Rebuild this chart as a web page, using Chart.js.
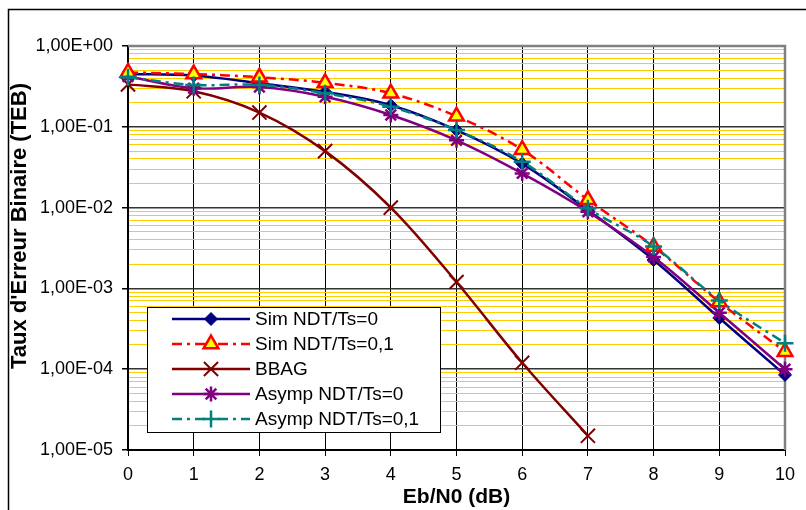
<!DOCTYPE html>
<html>
<head>
<meta charset="utf-8">
<script src="https://cdn.jsdelivr.net/npm/chart.js@4.4.1/dist/chart.umd.min.js"></script>
<style>
  html, body { margin: 0; padding: 0; background: #fff; }
  #wrap { width: 806px; height: 510px; }
</style>
</head>
<body>
<div id="wrap"><canvas id="tebChart"></canvas></div>
<script>
// Eb/N0 (dB)
const snr = [0, 1, 2, 3, 4, 5, 6, 7, 8, 9, 10];
// TEB values
const simNdt0 = [0.45, 0.43, 0.345, 0.27, 0.185, 0.091, 0.035, 0.0093, 0.00225, 0.00043, 0.000085];
const simNdt01 = [0.47, 0.45, 0.41, 0.35, 0.26, 0.135, 0.052, 0.0125, 0.0033, 0.00068, 0.000165];
const bbag = [0.335, 0.275, 0.15, 0.05, 0.01, 0.0012, 0.00012, 0.000015];
const asympNdt0 = [0.42, 0.30, 0.31, 0.235, 0.14, 0.068, 0.0265, 0.0089, 0.00245, 0.0005, 0.0001];
const asympNdt01 = [0.41, 0.33, 0.33, 0.26, 0.177, 0.091, 0.037, 0.0098, 0.0033, 0.00071, 0.00021];
const yTitle = "Taux d'Erreur Binaire (TEB)";
const xTitle = "Eb/N0 (dB)";

const FONT = "'Liberation Sans', Arial, sans-serif";

// log ticks: 1..9 per decade
const yTicks = [];
for (let e = -5; e < 0; e++) {
  for (let s = 1; s <= 9; s++) yTicks.push(Number((s * Math.pow(10, e)).toPrecision(6)));
}
yTicks.push(1);

function isDecade(v) {
  const l = Math.log10(v);
  return Math.abs(l - Math.round(l)) < 1e-6;
}
function sciLabel(v) {
  const e = Math.round(Math.log10(v));
  const a = Math.abs(e);
  return "1,00E" + (e < 0 ? "-" : "+") + (a < 10 ? "0" : "") + a;
}

function drawMarker(ctx, style, x, y, r) {
  ctx.beginPath();
  if (style === "rectRot") {
    ctx.moveTo(x - r, y);
    ctx.lineTo(x, y - r);
    ctx.lineTo(x + r, y);
    ctx.lineTo(x, y + r);
    ctx.closePath();
    ctx.fill();
    ctx.stroke();
  } else if (style === "triangle") {
    let rad = 0;
    ctx.moveTo(x + Math.sin(rad) * r, y - Math.cos(rad) * r);
    rad += (2 * Math.PI) / 3;
    ctx.lineTo(x + Math.sin(rad) * r, y - Math.cos(rad) * r);
    rad += (2 * Math.PI) / 3;
    ctx.lineTo(x + Math.sin(rad) * r, y - Math.cos(rad) * r);
    ctx.closePath();
    ctx.fill();
    ctx.stroke();
  } else {
    const d = r * Math.SQRT1_2;
    if (style === "cross" || style === "star") {
      ctx.moveTo(x, y - r); ctx.lineTo(x, y + r);
      ctx.moveTo(x - r, y); ctx.lineTo(x + r, y);
    }
    if (style === "crossRot" || style === "star") {
      ctx.moveTo(x - d, y - d); ctx.lineTo(x + d, y + d);
      ctx.moveTo(x + d, y - d); ctx.lineTo(x - d, y + d);
    }
    ctx.stroke();
  }
}

const framePlugin = {
  id: "framePlugin",
  beforeDraw(chart) {
    const ctx = chart.ctx;
    ctx.save();
    ctx.strokeStyle = "#000";
    ctx.lineWidth = 1.5;
    ctx.beginPath();
    ctx.moveTo(8.5, 520);
    ctx.lineTo(8.5, 9.5);
    ctx.lineTo(820, 9.5);
    ctx.stroke();
    ctx.restore();
  },
  beforeDatasetsDraw(chart) {
    const { ctx, chartArea: a } = chart;
    ctx.save();
    ctx.strokeStyle = "#808080";
    ctx.lineWidth = 2.5;
    ctx.beginPath();
    ctx.moveTo(a.left, a.top);
    ctx.lineTo(a.right, a.top);
    ctx.lineTo(a.right, a.bottom);
    ctx.stroke();
    ctx.restore();
  },
  afterDraw(chart) {
    const ctx = chart.ctx;
    // y axis title (rotated)
    ctx.save();
    ctx.translate(19.5, 226);
    ctx.rotate(-Math.PI / 2);
    ctx.fillStyle = "#000";
    ctx.font = "bold 22px " + FONT;
    ctx.textAlign = "center";
    ctx.textBaseline = "middle";
    ctx.fillText(yTitle, 0, 0);
    ctx.restore();

    // legend box
    const bx = 147, by = 307, bw = 293, bh = 125;
    ctx.save();
    ctx.fillStyle = "#fff";
    ctx.fillRect(bx, by, bw, bh);
    ctx.strokeStyle = "#000";
    ctx.lineWidth = 1;
    ctx.strokeRect(bx + 0.5, by + 0.5, bw, bh);
    chart.data.datasets.forEach((ds, i) => {
      const y = 319 + i * 25;
      ctx.setLineDash(ds.borderDash || []);
      ctx.strokeStyle = ds.borderColor;
      ctx.lineWidth = ds.borderWidth;
      ctx.beginPath();
      ctx.moveTo(172, y);
      ctx.lineTo(250, y);
      ctx.stroke();
      ctx.setLineDash([]);
      ctx.fillStyle = ds.pointBackgroundColor;
      ctx.strokeStyle = ds.pointBorderColor;
      ctx.lineWidth = ds.pointBorderWidth;
      drawMarker(ctx, ds.pointStyle, 211, y, ds.pointRadius);
      ctx.fillStyle = "#000";
      ctx.font = "19px " + FONT;
      ctx.textBaseline = "middle";
      ctx.textAlign = "left";
      ctx.fillText(ds.label, 255, y + 1);
    });
    ctx.restore();
  },
};

const ctx = document.getElementById("tebChart").getContext("2d");
const tebChart = new Chart(ctx, {
  type: "line",
  data: {
    labels: snr.map(String),
    datasets: [
      {
        label: "Sim NDT/Ts=0",
        data: simNdt0,
        borderColor: "#000080",
        borderWidth: 2.5,
        pointStyle: "rectRot",
        pointRadius: 6.5,
        pointBackgroundColor: "#000080",
        pointBorderColor: "#000080",
        pointBorderWidth: 1,
        tension: 0.35,
        order: 4,
      },
      {
        label: "Sim NDT/Ts=0,1",
        data: simNdt01,
        borderColor: "#FF0000",
        borderWidth: 2.5,
        borderDash: [10, 5, 3, 5],
        pointStyle: "triangle",
        pointRadius: 8.5,
        pointBackgroundColor: "#FFFF00",
        pointBorderColor: "#FF0000",
        pointBorderWidth: 2.5,
        tension: 0.35,
        order: 2,
      },
      {
        label: "BBAG",
        data: bbag,
        borderColor: "#800000",
        borderWidth: 2.5,
        pointStyle: "crossRot",
        pointRadius: 10,
        pointBackgroundColor: "#800000",
        pointBorderColor: "#800000",
        pointBorderWidth: 2,
        tension: 0.35,
        order: 5,
      },
      {
        label: "Asymp NDT/Ts=0",
        data: asympNdt0,
        borderColor: "#800080",
        borderWidth: 2.5,
        pointStyle: "star",
        pointRadius: 7.5,
        pointBackgroundColor: "#800080",
        pointBorderColor: "#800080",
        pointBorderWidth: 2.5,
        tension: 0.35,
        order: 3,
      },
      {
        label: "Asymp NDT/Ts=0,1",
        data: asympNdt01,
        borderColor: "#008080",
        borderWidth: 2.5,
        borderDash: [10, 5, 3, 5],
        pointStyle: "cross",
        pointRadius: 8.5,
        pointBackgroundColor: "#008080",
        pointBorderColor: "#008080",
        pointBorderWidth: 2.5,
        tension: 0.35,
        order: 1,
      },
    ],
  },
  options: {
    responsive: true,
    maintainAspectRatio: false,
    animation: false,
    clip: false,
    layout: { padding: { left: 8, top: 46, right: 21, bottom: 0 } },
    plugins: {
      legend: { display: false },
      tooltip: { enabled: false },
    },
    scales: {
      x: {
        type: "category",
        offset: false,
        afterFit(scale) {
          scale.height = 60;
        },
        ticks: {
          autoSkip: false,
          maxRotation: 0,
          padding: 8,
          color: "#000",
          font: { family: FONT, size: 18 },
        },
        grid: { color: "#000", lineWidth: 1, tickLength: 6, tickColor: "#000" },
        border: { color: "#000", width: 2 },
        title: {
          display: true,
          text: xTitle,
          color: "#000",
          font: { family: FONT, size: 21, weight: "bold" },
          padding: { top: 0, bottom: 0 },
        },
      },
      y: {
        type: "logarithmic",
        min: 1e-5,
        max: 1,
        afterBuildTicks(scale) {
          scale.ticks = yTicks.map((v) => ({ value: v }));
        },
        afterFit(scale) {
          scale.width = 120;
        },
        ticks: {
          autoSkip: false,
          padding: 9,
          color: "#000",
          font: { family: FONT, size: 18 },
          callback: (v) => (isDecade(v) ? sciLabel(v) : ""),
        },
        grid: {
          color: (c) => (c.tick && !isDecade(c.tick.value) ? "#FFCC00" : "#333"),
          lineWidth: (c) => (c.tick && !isDecade(c.tick.value) ? 1 : 1.5),
          tickLength: 6,
          tickColor: (c) => (c.tick && !isDecade(c.tick.value) ? "rgba(0,0,0,0)" : "#000"),
        },
        border: { color: "#000", width: 2 },
      },
    },
  },
  plugins: [framePlugin],
});
</script>
</body>
</html>
